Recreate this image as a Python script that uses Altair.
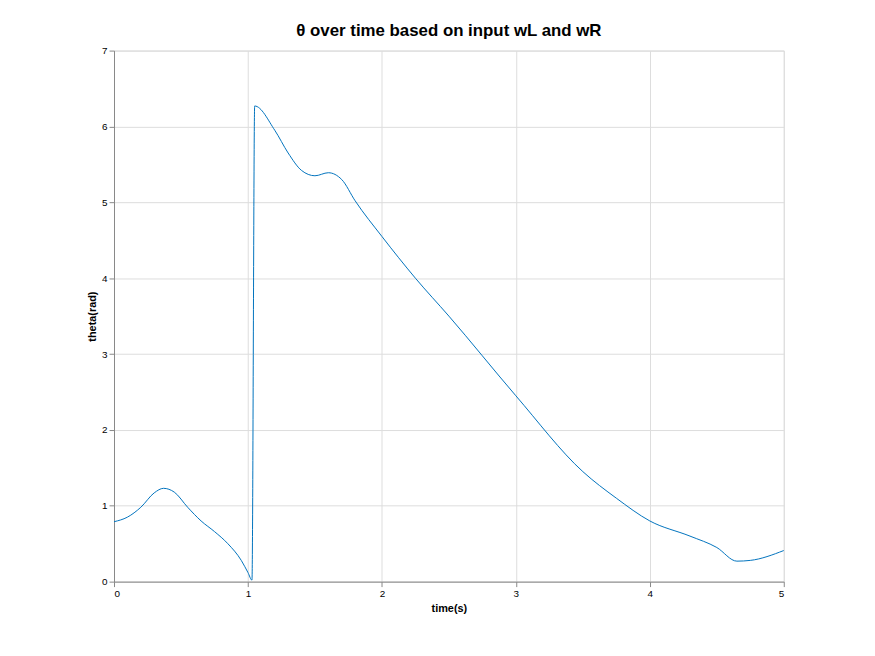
import altair as alt
import pandas as pd

t = [0, 0.1, 0.2, 0.3, 0.37, 0.45, 0.55, 0.65, 0.75, 0.85, 0.95, 1.0, 1.03, 1.05, 1.2, 1.3, 1.4, 1.5, 1.6, 1.7, 1.8, 2.0, 2.25, 2.5, 3.0, 3.5, 3.75, 4.0, 4.3, 4.5, 4.65, 4.75, 5.0]
theta = [0.79, 0.85, 0.98, 1.17, 1.23, 1.18, 0.98, 0.80, 0.66, 0.50, 0.28, 0.12, 0.02, 6.27, 5.95, 5.65, 5.42, 5.35, 5.39, 5.30, 5.02, 4.55, 4.0, 3.5, 2.45, 1.45, 1.1, 0.8, 0.6, 0.45, 0.27, 0.28, 0.41]
df = pd.DataFrame({"t": t, "theta": theta})

line = alt.Chart(df).mark_line(color="#0072BD", strokeWidth=1, interpolate="monotone").encode(
    x=alt.X("t:Q", scale=alt.Scale(domain=[0, 5], nice=False), title="time(s)",
            axis=alt.Axis(values=[0, 1, 2, 3, 4, 5], format="d")),
    y=alt.Y("theta:Q", scale=alt.Scale(domain=[0, 7], nice=False), title="theta(rad)",
            axis=alt.Axis(values=[0, 1, 2, 3, 4, 5, 6, 7], format="d")),
)

chart = line.properties(
    width=676, height=536,
    title=alt.TitleParams("θ over time based on input wL and wR", fontSize=17, fontWeight="bold",
                          font="Liberation Sans", color="#000000", offset=6),
    autosize=alt.AutoSizeParams(type="none"),
    padding={"left": 107, "top": 40, "right": 84, "bottom": 64},
).configure_view(stroke="#262626", strokeWidth=1).configure_axis(
    labelFont="Liberation Sans", titleFont="Liberation Sans", labelFontSize=15, titleFontSize=17,
    titleFontWeight="normal", labelColor="#262626", titleColor="#262626",
    gridColor="#dcdcdc", domainColor="#262626", tickColor="#262626",
    ticks=False, labelPadding=8, titlePadding=10,
).configure(background="white")

chart.save("out.html", embed_options={"renderer": "svg", "actions": False})
